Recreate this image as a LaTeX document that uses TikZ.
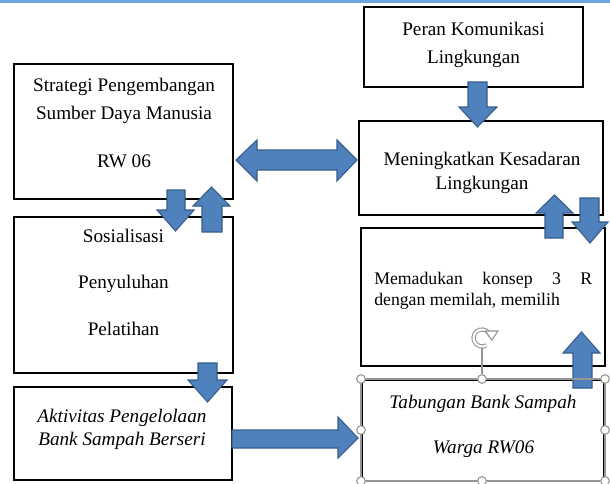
\documentclass[tikz,border=0pt]{standalone}
\usepackage{fontspec}
\setmainfont{Liberation Serif}
\usetikzlibrary{fit}
\definecolor{arrfill}{RGB}{79,129,189}
\definecolor{arrline}{RGB}{56,93,138}
\definecolor{topline}{RGB}{108,165,220}
\definecolor{handlegray}{RGB}{150,150,150}
\begin{document}
\begin{tikzpicture}[x=0.75pt,y=-0.75pt,
  box/.style={draw=black, line width=2pt, fill=white, inner sep=0pt},
  blockarrow/.style={fill=arrfill, draw=arrline, line width=0.8pt, line join=miter},
  txt/.style={anchor=base, inner sep=0pt, font=\fontsize{14.4}{17}\selectfont},
  itxt/.style={anchor=base, inner sep=0pt, font=\fontsize{14.4}{17}\selectfont\itshape},
  stxt/.style={anchor=base west, inner sep=0pt, font=\fontsize{13.3}{16}\selectfont},
  handle/.style={circle, draw=handlegray, fill=white, line width=0.8pt, minimum size=6.5pt, inner sep=0pt},
  selline/.style={draw=handlegray, line width=0.8pt}]
\useasboundingbox (0,0) rectangle (610,483);
\fill[topline] (0,0) rectangle (610,2.5);

% boxes
\node[box, fit={(364,7) (583,87)}] (peran) {};
\node[box, fit={(14,64) (233,199)}] (strat) {};
\node[box, fit={(359,121) (603,215)}] (men) {};
\node[box, fit={(14,217) (233,373)}] (sos) {};
\node[box, fit={(14,387) (232,480)}] (akt) {};
\node[box, fit={(361,228) (605,366)}] (mem) {};
\node[box, fit={(362,380) (604,481)}] (tab) {};

% texts
\node[txt] (peranA) at (473.5,35) {Peran Komunikasi};
\node[txt] (peranB) at (473.5,63) {Lingkungan};
\node[txt] (stratA) at (124,91) {Strategi Pengembangan};
\node[txt] (stratB) at (124,119) {Sumber Daya Manusia};
\node[txt] (stratC) at (124,167) {RW 06};
\node[txt] (menA) at (482,165) {Meningkatkan Kesadaran};
\node[txt] (menB) at (482,189) {Lingkungan};
\node[txt] (sosA) at (123.5,242) {Sosialisasi};
\node[txt] (sosB) at (123.5,288) {Penyuluhan};
\node[txt] (sosC) at (123.5,335) {Pelatihan};
\node[itxt] (aktA) at (122,422) {Aktivitas Pengelolaan};
\node[itxt] (aktB) at (122,445) {Bank Sampah Berseri};
\node[stxt] (memA) at (374,284) {\makebox[163.5pt][s]{Memadukan konsep 3 R}};
\node[stxt] (memB) at (374,305) {dengan memilah, memilih};
\node[itxt] (tabA) at (483,408) {Tabungan Bank Sampah};
\node[itxt] (tabB) at (483.5,453) {Warga RW06};

% block arrows
% double arrow strat <-> men
\draw[blockarrow] (236,160) -- (257,140) -- (257,150) -- (337,150) -- (337,140) -- (357,160)
  -- (337,181) -- (337,170) -- (257,170) -- (257,181) -- cycle;
% peran -> men
\draw[blockarrow] (468,82) -- (487,82) -- (487,107) -- (497,107) -- (477.5,127) -- (459,107) -- (468,107) -- cycle;
% strat -> sos
\draw[blockarrow] (167,190) -- (185,190) -- (185,210) -- (194,210) -- (175.5,231) -- (157,210) -- (167,210) -- cycle;
% sos -> strat
\draw[blockarrow] (202,232) -- (222,232) -- (222,206) -- (230,206) -- (211.5,187) -- (193,206) -- (202,206) -- cycle;
% sos -> akt
\draw[blockarrow] (198,363) -- (217,363) -- (217,380) -- (227,380) -- (207.5,402) -- (188,380) -- (198,380) -- cycle;
% akt -> tab
\draw[blockarrow] (232,430) -- (338,430) -- (338,417) -- (358,438) -- (338,458) -- (338,448) -- (232,448) -- cycle;
% mem -> men
\draw[blockarrow] (545,238) -- (563,238) -- (563,213) -- (573,213) -- (554.5,195) -- (536,213) -- (545,213) -- cycle;
% men -> mem
\draw[blockarrow] (580,198) -- (599,198) -- (599,222) -- (608,222) -- (590,243) -- (572,222) -- (580,222) -- cycle;
% tab -> mem
\draw[blockarrow] (573,388) -- (592,388) -- (592,353) -- (600,353) -- (581.5,332) -- (563,353) -- (573,353) -- cycle;

% selection overlay of the Tabungan box
\draw[selline] (361,379) rectangle (605,481);
\coordinate (roticon) at (482,348);
\node[handle] (hA) at (361,379) {};
\node[handle] (hB) at (482,379) {};
\node[handle] (hC) at (605,379) {};
\node[handle] (hD) at (361,430) {};
\node[handle] (hE) at (605,430) {};
\node[handle] (hF) at (361,481) {};
\node[handle] (hG) at (482,481) {};
\node[handle] (hH) at (605,481) {};
\draw[selline] (hB) -- (roticon);
\draw[draw=handlegray, line width=0.8pt, double=white, double distance=1.6pt]
  (482,338) ++(-15:8.5) arc (-15:-300:8.5);
\draw[handlegray, line width=0.8pt, fill=white, line join=miter] (485.5,331) -- (498,331) -- (491.75,340) -- cycle;
\end{tikzpicture}
\end{document}
